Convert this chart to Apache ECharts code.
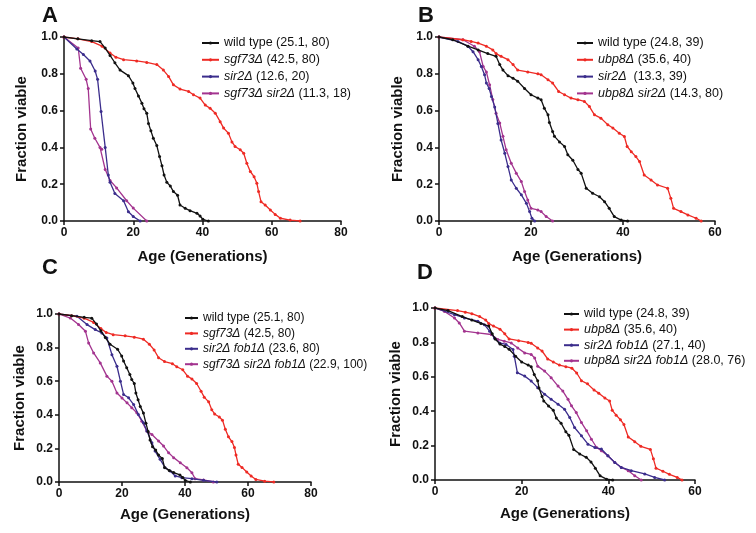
<!DOCTYPE html>
<html><head><meta charset="utf-8">
<script src="https://cdn.jsdelivr.net/npm/echarts@6/dist/echarts.min.js"></script>
<style>html,body{margin:0;padding:0;background:#fff}#c{width:756px;height:533px}</style>
</head><body><div id="c"></div><script>
// ---------- Panel A ----------
const A_wt_x = [0, 4, 8, 10.4, 11.9, 13.3, 14.7, 16.2, 18.6, 19.9, 20.5, 21.5, 22.5, 23.1, 23.9, 24.4, 25.1, 25.8, 26.8, 27.6, 28.3, 28.9, 29.7, 30.7, 31.6, 32.8, 33.5, 35, 36.4, 38.4, 39.3, 40.1, 41.7];
const A_wt_y = [1, 0.99, 0.98, 0.975, 0.94, 0.90, 0.86, 0.82, 0.79, 0.75, 0.72, 0.68, 0.64, 0.61, 0.586, 0.53, 0.49, 0.45, 0.41, 0.35, 0.30, 0.25, 0.21, 0.19, 0.16, 0.14, 0.087, 0.069, 0.056, 0.042, 0.027, 0.009, 0];
const A_sgf_x = [0, 4, 8, 11, 13.3, 15, 17.2, 21, 23.9, 26.8, 28.7, 30.2, 31.6, 33.5, 36, 37.4, 39.3, 40.8, 42.2, 43.7, 45.1, 46.1, 47.5, 48.5, 49.4, 50.9, 51.9, 52.8, 53.8, 54.9, 55.7, 56.2, 56.9, 58.1, 59.6, 61, 62.5, 65.3, 68.2];
const A_sgf_y = [1, 0.99, 0.975, 0.95, 0.913, 0.89, 0.877, 0.87, 0.862, 0.85, 0.82, 0.786, 0.74, 0.717, 0.704, 0.686, 0.668, 0.63, 0.613, 0.586, 0.54, 0.505, 0.477, 0.43, 0.405, 0.387, 0.368, 0.314, 0.269, 0.241, 0.205, 0.16, 0.105, 0.087, 0.06, 0.036, 0.015, 0.005, 0];
const A_sir_x = [0, 3.7, 5.6, 7.5, 9, 9.7, 10.7, 11.9, 12.8, 13.3, 14.7, 17.2, 18.6, 20, 22];
const A_sir_y = [1, 0.935, 0.905, 0.87, 0.815, 0.77, 0.595, 0.40, 0.25, 0.21, 0.15, 0.11, 0.05, 0.024, 0];
const A_dbl_x = [0, 4.1, 4.8, 6.4, 7.0, 7.7, 8.9, 10.4, 10.9, 11.9, 13.3, 15.2, 18.1, 20, 23.9];
const A_dbl_y = [1, 0.94, 0.83, 0.77, 0.72, 0.50, 0.45, 0.40, 0.39, 0.28, 0.22, 0.18, 0.11, 0.07, 0];
// ---------- Panel B ----------
const B_wt_x = [0, 3, 6.3, 8.5, 10.6, 12.4, 13.2, 13.9, 15, 16.1, 17.1, 18.6, 20, 21.5, 22.2, 22.9, 23.7, 24, 24.7, 25.1, 26.2, 27.3, 28, 29.1, 30.2, 30.9, 32, 33.4, 34.9, 36, 37, 38.1, 39.6, 41];
const B_wt_y = [1, 0.985, 0.95, 0.93, 0.91, 0.895, 0.85, 0.82, 0.79, 0.776, 0.76, 0.72, 0.686, 0.668, 0.659, 0.613, 0.577, 0.535, 0.486, 0.46, 0.43, 0.405, 0.36, 0.33, 0.28, 0.26, 0.178, 0.151, 0.132, 0.105, 0.069, 0.024, 0.005, 0];
const B_ubp_x = [0, 5.2, 7, 8.5, 10.3, 11.7, 12.4, 13.5, 15, 16.1, 17.1, 19.3, 21.5, 22.2, 23.7, 24.7, 26, 27.3, 28.7, 30.2, 31.6, 32.7, 33.8, 35.2, 36.7, 37.8, 39.2, 40.3, 40.9, 41.8, 42.8, 43.6, 44.6, 46.1, 47.5, 49.7, 50.4, 51, 52.6, 54.1, 55.9, 57];
const B_ubp_y = [1, 0.985, 0.976, 0.967, 0.95, 0.93, 0.91, 0.895, 0.877, 0.85, 0.82, 0.81, 0.80, 0.795, 0.768, 0.75, 0.704, 0.686, 0.668, 0.659, 0.65, 0.622, 0.577, 0.559, 0.523, 0.505, 0.477, 0.459, 0.405, 0.377, 0.35, 0.323, 0.25, 0.223, 0.196, 0.178, 0.123, 0.069, 0.051, 0.033, 0.015, 0];
const B_sir_x = [0, 4.1, 6.3, 7.4, 8.5, 9.2, 9.9, 10.3, 10.9, 11.4, 12.1, 12.8, 13.5, 14.3, 15, 15.7, 16.8, 17.9, 19, 19.7, 20.2, 20.8];
const B_sir_y = [1, 0.976, 0.95, 0.92, 0.877, 0.84, 0.795, 0.75, 0.72, 0.677, 0.62, 0.53, 0.44, 0.368, 0.296, 0.223, 0.178, 0.142, 0.096, 0.051, 0.015, 0];
const B_dbl_x = [0, 5.2, 7.7, 8.8, 9.6, 10.3, 11, 11.7, 12.4, 13.2, 13.9, 14.6, 15.7, 16.8, 17.9, 18.6, 19.3, 20, 21.5, 22.2, 23.3, 24.7];
const B_dbl_y = [1, 0.985, 0.95, 0.92, 0.84, 0.81, 0.74, 0.66, 0.586, 0.533, 0.46, 0.387, 0.314, 0.26, 0.214, 0.16, 0.114, 0.069, 0.06, 0.051, 0.024, 0];
// ---------- Panel C ----------
const C_sf_x = [0, 5.7, 8.9, 11.5, 13.6, 15.2, 16.8, 18.4, 19.5, 20.5, 22.1, 23.7, 25.2, 26.8, 27.9, 29.5, 30.5, 32.1, 33.7, 35.3, 36.9, 39, 42.2, 45.9, 50.1];
const C_sf_y = [1, 0.986, 0.937, 0.907, 0.887, 0.857, 0.758, 0.689, 0.6, 0.521, 0.501, 0.461, 0.402, 0.352, 0.303, 0.234, 0.184, 0.135, 0.085, 0.065, 0.036, 0.026, 0.02, 0.01, 0];
const C_tri_x = [0, 3.6, 6.2, 8.4, 9.4, 11, 13.1, 15.2, 16.8, 18.4, 20, 21.6, 23.1, 24.7, 26.3, 27.9, 29.5, 31.6, 33.2, 34.8, 36.4, 38.5, 40.6, 42.2, 43.2, 45.9, 49];
const C_tri_y = [1, 0.976, 0.937, 0.897, 0.828, 0.768, 0.709, 0.63, 0.6, 0.53, 0.5, 0.471, 0.442, 0.412, 0.362, 0.303, 0.283, 0.244, 0.214, 0.174, 0.145, 0.115, 0.085, 0.055, 0.02, 0.012, 0];
// ---------- Panel D ----------
const D_sf_x = [0, 4.5, 6.8, 9.9, 11.4, 12.6, 13.7, 14.9, 16.4, 18, 18.3, 19, 20.7, 22.2, 23.7, 25.3, 26.8, 28.4, 29.9, 31.1, 32.2, 33.8, 35.3, 36.9, 38.4, 39.9, 41.5, 43, 45.3, 48.4, 50.7, 53];
const D_sf_y = [1, 0.961, 0.942, 0.923, 0.903, 0.865, 0.826, 0.797, 0.788, 0.759, 0.72, 0.624, 0.604, 0.575, 0.537, 0.498, 0.469, 0.44, 0.411, 0.363, 0.305, 0.257, 0.208, 0.189, 0.18, 0.141, 0.102, 0.073, 0.054, 0.035, 0.015, 0];
const D_tri_x = [0, 2.2, 4.5, 5.6, 6.8, 9.9, 13, 14.5, 16, 17.6, 19.1, 20.7, 22.2, 23, 23.7, 25.3, 26.8, 28.4, 29.5, 30.7, 31.5, 32.6, 33.8, 35, 36.1, 37.3, 38.4, 39.9, 41.5, 43, 44.6, 46.1, 47.6];
const D_tri_y = [1, 0.98, 0.942, 0.913, 0.865, 0.855, 0.846, 0.817, 0.807, 0.797, 0.768, 0.739, 0.73, 0.71, 0.662, 0.633, 0.595, 0.546, 0.517, 0.469, 0.431, 0.392, 0.334, 0.286, 0.237, 0.189, 0.17, 0.141, 0.102, 0.073, 0.054, 0.025, 0];

// legend labels: [genotype, stats]
const labA = [['wild type', '(25.1, 80)'], ['sgf73Δ', '(42.5, 80)'], ['sir2Δ', '(12.6, 20)'], ['sgf73Δ sir2Δ', '(11.3, 18)']];
const labB = [['wild type', '(24.8, 39)'], ['ubp8Δ', '(35.6, 40)'], ['sir2Δ', ' (13.3, 39)'], ['ubp8Δ sir2Δ', '(14.3, 80)']];
const labC = [['wild type', '(25.1, 80)'], ['sgf73Δ', '(42.5, 80)'], ['sir2Δ fob1Δ', '(23.6, 80)'], ['sgf73Δ sir2Δ fob1Δ', '(22.9, 100)']];
const labD = [['wild type', '(24.8, 39)'], ['ubp8Δ', '(35.6, 40)'], ['sir2Δ fob1Δ', '(27.1, 40)'], ['ubp8Δ sir2Δ fob1Δ', '(28.0, 76)']];

const colors = ['#111111', '#ee2a24', '#3b2d8c', '#a3348f'];
const FONT = 'Liberation Sans, Arial, sans-serif';

const zip = (xs, ys) => xs.map((x, i) => [x, ys[i]]);
const panels = [
  {key: 'A', lab: labA, data: [[A_wt_x, A_wt_y], [A_sgf_x, A_sgf_y], [A_sir_x, A_sir_y], [A_dbl_x, A_dbl_y]],
   grid: {left: 64, top: 37, width: 277, height: 184}, xmax: 80, xgap: 28, ygap: 35,
   leg: {left: 201, top: 36, pitch: 16.8, fs: 12.5, iw: 17}, letter: {left: 42, top: 5}},
  {key: 'B', lab: labB, data: [[B_wt_x, B_wt_y], [B_ubp_x, B_ubp_y], [B_sir_x, B_sir_y], [B_dbl_x, B_dbl_y]],
   grid: {left: 439, top: 37, width: 276, height: 184}, xmax: 60, xgap: 28, ygap: 34,
   leg: {left: 576, top: 36, pitch: 16.8, fs: 12.5, iw: 16}, letter: {left: 418, top: 5}},
  {key: 'C', lab: labC, data: [[A_wt_x, A_wt_y], [A_sgf_x, A_sgf_y], [C_sf_x, C_sf_y], [C_tri_x, C_tri_y]],
   grid: {left: 59, top: 314, width: 252, height: 168}, xmax: 80, xgap: 25, ygap: 32,
   leg: {left: 184, top: 311, pitch: 15.4, fs: 12, iw: 13}, letter: {left: 42, top: 257}},
  {key: 'D', lab: labD, data: [[B_wt_x, B_wt_y], [B_ubp_x, B_ubp_y], [D_sf_x, D_sf_y], [D_tri_x, D_tri_y]],
   grid: {left: 435, top: 308, width: 260, height: 172}, xmax: 60, xgap: 26, ygap: 32,
   leg: {left: 563, top: 307, pitch: 15.6, fs: 12.5, iw: 15}, letter: {left: 417, top: 262}}
];

const axisLineStyle = {color: '#111', width: 1.5};
const option = {
  animation: false,
  backgroundColor: '#fff',
  title: [], grid: [], xAxis: [], yAxis: [], legend: [], series: []
};
const labelMap = {};
panels.forEach((p, pi) => {
  option.title.push({text: p.key, left: p.letter.left, top: p.letter.top, padding: 0,
    textStyle: {fontFamily: FONT, fontSize: 22, fontWeight: 'bold', color: '#111'}});
  option.grid.push(Object.assign({containLabel: false}, p.grid));
  option.xAxis.push({type: 'value', gridIndex: pi, min: 0, max: p.xmax, interval: 20,
    name: 'Age (Generations)', nameLocation: 'middle', nameGap: p.xgap,
    nameTextStyle: {fontFamily: FONT, fontSize: 15, fontWeight: 'bold', color: '#111'},
    axisLine: {lineStyle: axisLineStyle}, axisTick: {length: 4, lineStyle: axisLineStyle},
    axisLabel: {fontFamily: FONT, fontSize: 12, fontWeight: 'bold', color: '#111', margin: 6},
    splitLine: {show: false}});
  option.yAxis.push({type: 'value', gridIndex: pi, min: 0, max: 1, interval: 0.2,
    name: 'Fraction viable', nameLocation: 'middle', nameGap: p.ygap,
    nameTextStyle: {fontFamily: FONT, fontSize: 15, fontWeight: 'bold', color: '#111'},
    axisLine: {lineStyle: axisLineStyle}, axisTick: {length: 4, lineStyle: axisLineStyle},
    axisLabel: {fontFamily: FONT, fontSize: 12, fontWeight: 'bold', color: '#111', margin: 6,
      formatter: v => v.toFixed(1)},
    splitLine: {show: false}});
  const names = [];
  p.data.forEach((d, si) => {
    const nm = p.key + si;
    names.push(nm);
    const [g, s] = p.lab[si];
    labelMap[nm] = si === 0 ? '{n|' + g + ' ' + s + '}' : '{i|' + g + '}{n| ' + s + '}';
    option.series.push({type: 'line', name: nm, xAxisIndex: pi, yAxisIndex: pi,
      data: zip(d[0], d[1]), symbol: 'circle', symbolSize: 3, showSymbol: true,
      color: colors[si], lineStyle: {width: 1.3, color: colors[si]}, itemStyle: {color: colors[si]},
      z: 10 - si});
  });
  const fs = p.leg.fs;
  option.legend.push({data: names, orient: 'vertical', left: p.leg.left, top: p.leg.top, padding: 0,
    itemWidth: p.leg.iw, itemHeight: 4, itemGap: p.leg.pitch - 14, selectedMode: false,
    formatter: n => labelMap[n],
    textStyle: {fontFamily: FONT, fontSize: fs, color: '#111', lineHeight: 14,
      rich: {i: {fontFamily: FONT, fontSize: fs, fontStyle: 'italic', color: '#111', lineHeight: 14},
             n: {fontFamily: FONT, fontSize: fs, color: '#111', lineHeight: 14}}}});
});
const chart = echarts.init(document.getElementById('c'), null, {renderer: 'canvas'});
chart.setOption(option);
</script></body></html>
